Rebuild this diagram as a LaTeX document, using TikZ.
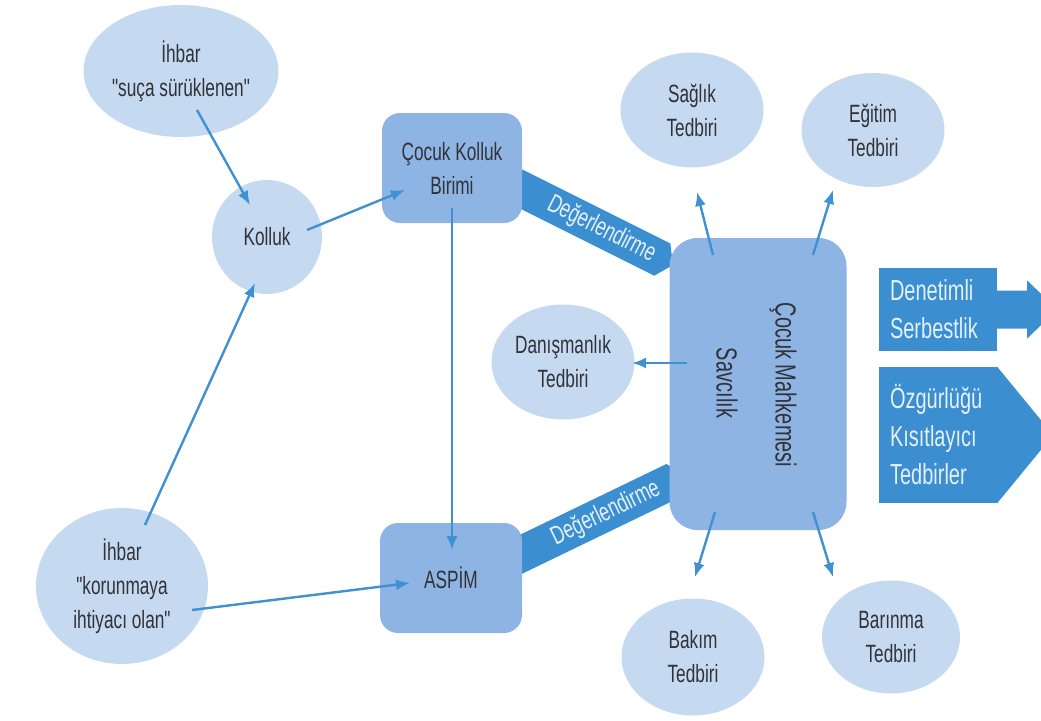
\documentclass[tikz,border=0pt]{standalone}
\usepackage{fontspec}
\setmainfont{Liberation Sans}[FakeStretch=0.69,Ligatures=TeXOff]
\usetikzlibrary{arrows.meta}
\usetikzlibrary{shapes}

\definecolor{acikMavi}{RGB}{197,217,240}
\definecolor{ortaMavi}{RGB}{141,180,226}
\definecolor{koyuMavi}{RGB}{59,142,208}
\definecolor{okMavi}{RGB}{62,145,210}
\definecolor{yazi}{RGB}{50,50,56}
\definecolor{kartYazi}{RGB}{228,240,251}

\begin{document}
\begin{tikzpicture}[x=1pt,y=-1pt,
    every node/.style={font=\fontsize{25}{34}\selectfont,text=yazi,align=center},
    tedbir/.style={ellipse,fill=acikMavi,inner sep=0pt},
    birim/.style={rectangle,rounded corners=18pt,fill=ortaMavi,inner sep=0pt},
    kart/.style={rectangle,fill=koyuMavi,text=kartYazi,align=left,inner xsep=11pt,inner ysep=0pt,font=\fontsize{29}{38}\selectfont},
    bantYazi/.style={text=kartYazi,font=\fontsize{26}{28}\selectfont},
    ok/.style={draw=okMavi,line width=2.4pt,-{Latex[length=14pt,width=11pt]}}]
          \clip (0,0) rectangle (1041,720);
          \begin{scope}[shift={(673,265)},rotate=-26.6]
            \fill[koyuMavi] (-200,-18) -- (-12,-18) -- (0,0) -- (-12,18) -- (-200,18) -- cycle;
            \node[bantYazi,rotate=-26.6] (degerUst) at (-80,0) {Değerlendirme};
          \end{scope}
          \begin{scope}[shift={(685,475)},rotate=25.8]
            \fill[koyuMavi] (-200,-18) -- (-12,-18) -- (0,0) -- (-12,18) -- (-200,18) -- cycle;
            \node[bantYazi,rotate=25.8] (degerAlt) at (-88,0) {Değerlendirme};
          \end{scope}
          \node[tedbir,minimum width=172pt,minimum height=132pt] (sucaIhbar) at (181,71) {İhbar\\"suça sürüklenen"};
          \node[tedbir,minimum width=110pt,minimum height=114pt] (kolluk) at (267,237) {Kolluk};
          \node[tedbir,minimum width=172pt,minimum height=156pt] (korunmaIhbar) at (122,586) {İhbar\\"korunmaya\\ihtiyacı olan"};
          \node[birim,minimum width=140pt,minimum height=110pt] (cocukKolluk) at (452,168) {Çocuk Kolluk\\Birimi};
          \node[birim,minimum width=142pt,minimum height=110pt] (aspim) at (451,578) {ASPİM};
          \node[birim,rounded corners=28pt,minimum width=177pt,minimum height=292pt] (merkez) at (758,384) {};
          \node[rotate=-90,font=\fontsize{29}{34}\selectfont] (savcilik) at ([shift={(-31,-1)}]merkez.center) {Savcılık};
          \node[rotate=-90,font=\fontsize{29}{34}\selectfont] (mahkeme) at ([shift={(25,1)}]merkez.center) {Çocuk Mahkemesi};
          \node[tedbir,minimum width=143pt,minimum height=115pt] (danisma) at (563,362) {Danışmanlık\\Tedbiri};
          \node[tedbir,minimum width=143pt,minimum height=115pt] (saglik) at (692,110) {Sağlık\\Tedbiri};
          \node[tedbir,minimum width=143pt,minimum height=114pt] (egitim) at (873,130) {Eğitim\\Tedbiri};
          \node[tedbir,minimum width=143pt,minimum height=117pt] (bakim) at (693,657) {Bakım\\Tedbiri};
          \node[tedbir,minimum width=138pt,minimum height=113pt] (barinma) at (891,637) {Barınma\\Tedbiri};
          \node[kart,text width=96pt,minimum height=83pt] (denetimli) at (938,309.5) {Denetimli\\Serbestlik};
          \fill[koyuMavi] ([shift={(-1,-19)}]denetimli.east) -- ++(31,0) -- ++(0,-10) -- ++(30,29) -- ++(-30,29) -- ++(0,-10) -- ++(-31,0) -- cycle;
          \node[kart,text width=97pt,minimum height=136pt] (ozgurluk) at (938.5,435) {Özgürlüğü\\Kısıtlayıcı\\Tedbirler};
          \fill[koyuMavi] ([xshift=-1pt]ozgurluk.north east) -- ([xshift=55pt]ozgurluk.east) -- ([xshift=-1pt]ozgurluk.south east) -- cycle;
          \draw[ok] ([shift={(16,39)}]sucaIhbar.center) -- ([shift={(-17,-32)}]kolluk.center);
          \draw[ok] ([shift={(40,-7)}]kolluk.center) -- ([shift={(-47,22)}]cocukKolluk.center);
          \draw[ok] ([shift={(23,-61)}]korunmaIhbar.center) -- ([shift={(-12,46)}]kolluk.center);
          \draw[ok] ([shift={(70,24)}]korunmaIhbar.center) -- ([shift={(-41,5)}]aspim.center);
          \draw[ok] ([shift={(0,40)}]cocukKolluk.center) -- ([shift={(1,-28)}]aspim.center);
          \draw[ok] ([shift={(-71,-21)}]merkez.center) -- ([shift={(69,1)}]danisma.center);
          \draw[ok] ([shift={(-45,-129)}]merkez.center) -- ([shift={(5,82)}]saglik.center);
          \draw[ok] ([shift={(55,-129)}]merkez.center) -- ([shift={(-40,60)}]egitim.center);
          \draw[ok] ([shift={(-43,128)}]merkez.center) -- ([shift={(2,-80)}]bakim.center);
          \draw[ok] ([shift={(55,128)}]merkez.center) -- ([shift={(-58,-60)}]barinma.center);
        \end{tikzpicture}
\end{document}
